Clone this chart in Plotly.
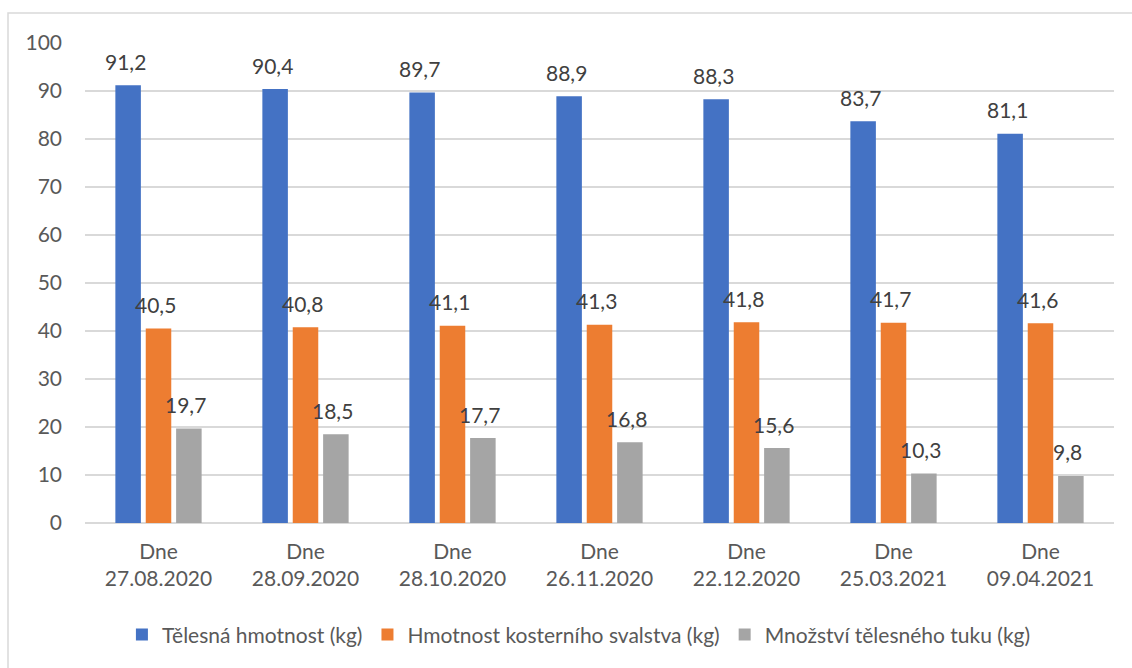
import plotly.graph_objects as go

# Measurement dates (two-line category labels)
dates = ["27.08.2020", "28.09.2020", "28.10.2020", "26.11.2020",
         "22.12.2020", "25.03.2021", "09.04.2021"]
categories = ["Dne<br>" + d for d in dates]

series_names = ["Tělesná hmotnost (kg)",
                "Hmotnost kosterního svalstva (kg)",
                "Množství tělesného tuku (kg)"]
body_mass = [91.2, 90.4, 89.7, 88.9, 88.3, 83.7, 81.1]
muscle_mass = [40.5, 40.8, 41.1, 41.3, 41.8, 41.7, 41.6]
body_fat = [19.7, 18.5, 17.7, 16.8, 15.6, 10.3, 9.8]

series_values = [body_mass, muscle_mass, body_fat]
colors = ["#4472C4", "#ED7D31", "#A5A5A5"]

FONT = "Lato"
TEXT_GREY = "#595959"
LABEL_GREY = "#404040"

fig = go.Figure()
for name, vals, col in zip(series_names, series_values, colors):
    fig.add_trace(go.Bar(
        x=categories, y=vals, name=name,
        marker=dict(color=col, line=dict(width=0)),
    ))

# Value labels above each bar, offset to the bar's slot within its group
plot_w = 1132 - 85 - 18
slot = plot_w / len(categories) * (1 - 0.38) / 3
for s, vals in enumerate(series_values):
    for cat, v in zip(categories, vals):
        fig.add_annotation(
            x=cat, y=v, xref="x", yref="y",
            text=f"{v:.1f}".replace(".", ","),
            showarrow=False, xshift=(s - 1) * slot - 3, yshift=24,
            yanchor="middle",
            font=dict(family=FONT, size=21, color=LABEL_GREY),
        )

fig.update_layout(
    width=1132, height=668,
    margin=dict(l=85, r=18, t=43, b=145),
    paper_bgcolor="white", plot_bgcolor="white",
    barmode="group", bargap=0.38, bargroupgap=0.16,
    separators=", ",
    font=dict(family=FONT, size=21, color=TEXT_GREY),
    showlegend=True,
    legend=dict(
        orientation="h", x=0.48, xanchor="center",
        y=-0.233, yanchor="middle",
        font=dict(family=FONT, size=21, color=TEXT_GREY),
        itemwidth=30, traceorder="normal",
    ),
    xaxis=dict(
        showgrid=False, showline=False, ticks="",
        ticklabelstandoff=14,
        tickfont=dict(family=FONT, size=21, color=TEXT_GREY),
    ),
    yaxis=dict(
        range=[0, 100], dtick=10, tick0=0,
        showgrid=True, gridcolor="#D9D9D9", gridwidth=1.5,
        zeroline=True, zerolinecolor="#D9D9D9", zerolinewidth=1.5,
        showline=False, ticks="",
        ticklabelstandoff=22,
        tickfont=dict(family=FONT, size=21, color=TEXT_GREY),
    ),
    shapes=[dict(
        type="rect", xref="paper", yref="paper",
        x0=(8 - 85) / plot_w, x1=(1145 - 85) / plot_w,
        y0=(523 - 680) / 480, y1=(523 - 13) / 480,
        line=dict(color="#D9D9D9", width=1.5), fillcolor="rgba(0,0,0,0)",
        layer="below",
    )],
)

fig.write_html("out.html")
